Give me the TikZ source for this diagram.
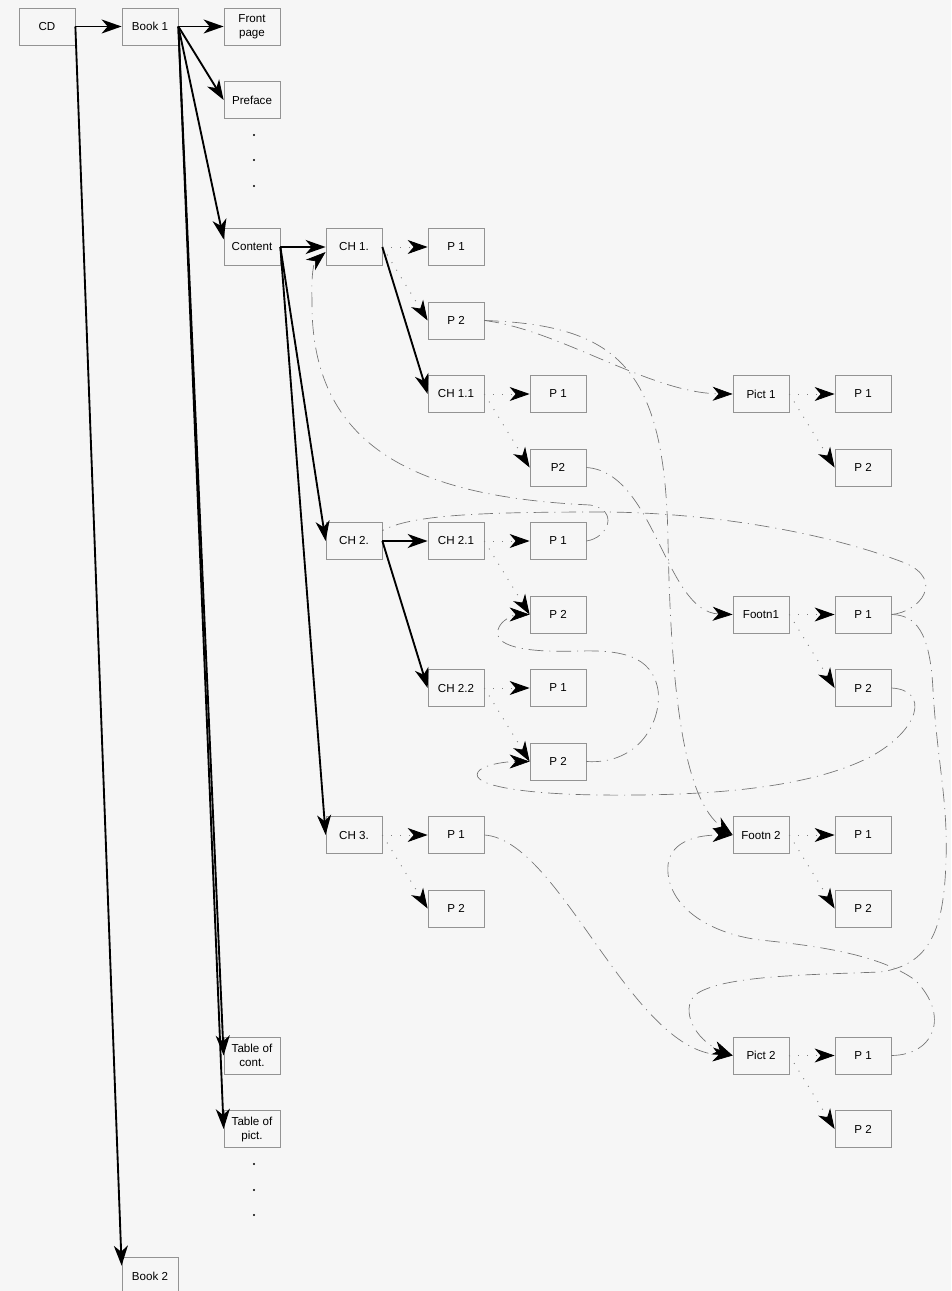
\documentclass[tikz,border=0pt]{standalone}
\usepackage{fontspec}
\setmainfont{Liberation Sans}
\usetikzlibrary{arrows.meta}
\tikzset{
  box/.style={draw=gray!85,line width=.55pt,minimum width=42pt,minimum height=27.75pt,inner sep=1pt,align=center,font=\fontsize{8.7}{10.5}\selectfont},
  barb/.style={-{Stealth[length=15pt,width=10.5pt,inset=4.5pt,color=black]}},
  link/.style={barb,line width=1.4pt},
  sub/.style={barb,gray,line width=.7pt,dash pattern=on .7pt off 6pt},
  xref/.style={barb,gray!90!black,line width=.5pt,dash pattern=on 11pt off 4.5pt on .8pt off 4.5pt},
}
\begin{document}
\begin{tikzpicture}[x=.75pt,y=-.75pt]
\fill[gray!7] (0,0) rectangle (951,1291);
\useasboundingbox (0,0) rectangle (951,1291);
% cd and books
\node[box] (cd) at (47,26.5) {CD};
\node[box] (book1) at (150,26.5) {Book 1};
\node[box] (book2) at (150,1276) {Book 2};
% parts of book 1
\node[box] (front) at (252,26.5) {Front\\page};
\node[box] (preface) at (252,100) {Preface};
\node[box] (content) at (252,247) {Content};
\node[box] (toc) at (252,1055.5) {Table of\\cont.};
\node[box] (top) at (252,1129) {Table of\\pict.};
\foreach \y in {135,160,186,1164,1190,1215}
  \fill (254,\y) circle (.9pt);
% chapters, pictures, footnotes
\node[box] (ch1) at (354,247) {CH 1.};
\node[box] (ch11) at (456,394) {CH 1.1};
\node[box] (ch2) at (354,541) {CH 2.};
\node[box] (ch21) at (456,541) {CH 2.1};
\node[box] (ch22) at (456,688) {CH 2.2};
\node[box] (ch3) at (354,835) {CH 3.};
\node[box] (pict1) at (761,394) {Pict 1};
\node[box] (footn1) at (761,614.5) {Footn1};
\node[box] (footn2) at (761,835) {Footn 2};
\node[box] (pict2) at (761,1055.5) {Pict 2};
% pages
\foreach \s/\x/\y/\q in {ch1/354/247/P 2,ch11/456/394/P2,pict1/761/394/P 2,ch21/456/541/P 2,ch22/456/688/P 2,footn1/761/614.5/P 2,ch3/354/835/P 2,footn2/761/835/P 2,pict2/761/1055.5/P 2}{
  \node[box] (\s-p1) at (\x+102,\y) {P 1};
  \node[box] (\s-p2) at (\x+102,\y+73.5) {\q};
  \draw[sub] (\s.east) -- (\s-p1.west);
  \draw[sub] (\s.east) -- (\s-p2.west);
}
% tree
\draw[link] (cd.east) -- (book1.west);
\draw[link] (cd.east) -- (book2.160);
\foreach \t in {front.west,preface.west,content.165,toc.west,top.west}
  \draw[link] (book1.east) -- (\t);
\foreach \t in {ch1,ch2,ch3}
  \draw[link] (content.east) -- (\t.west);
\draw[link] (ch1.east) -- (ch11.west);
\draw[link] (ch2.east) -- (ch21.west);
\draw[link] (ch2.east) -- (ch22.west);
% cross references
\draw[xref] (ch1-p2.east) .. controls (560,330) and (650,393) .. (pict1.west);
\draw[xref] (ch1-p2.east) .. controls (620,325) and (665,370) .. (668,540)
  .. controls (671,700) and (685,800) .. (footn2.west);
\draw[xref] (ch11-p2.east) .. controls (655,472) and (665,612) .. (footn1.west);
\draw[xref] (ch21-p1.east) .. controls (608,538) and (620,510) .. (590,505)
  .. controls (420,497) and (310,450) .. (312,300)
  .. controls (311,275) and (314,262) .. (ch1.190);
\draw[xref,-] (footn1-p1.east) .. controls (920,612) and (945,580) .. (905,563)
  .. controls (820,530) and (700,512) .. (600,512)
  .. controls (480,512) and (410,515) .. (ch2.20);
\draw[xref] (ch22-p2.east) .. controls (640,765) and (662,720) .. (658,690)
  .. controls (652,655) and (620,650) .. (580,651)
  .. controls (520,653) and (494,645) .. (498,630)
  .. controls (500,620) and (515,614.5) .. (ch21-p2.west);
\draw[xref] (footn1-p2.east) .. controls (930,690) and (920,730) .. (870,757)
  .. controls (805,790) and (700,796) .. (600,795)
  .. controls (520,794) and (470,785) .. (478,772)
  .. controls (482,765) and (505,761.5) .. (ch22-p2.west);
\draw[xref] (footn1-p1.east) .. controls (915,615) and (930,630) .. (933,690)
  .. controls (937,760) and (948,800) .. (946,860)
  .. controls (944,930) and (930,965) .. (880,972)
  .. controls (800,975) and (720,976) .. (695,995)
  .. controls (680,1010) and (695,1040) .. (pict2.west);
\draw[xref] (pict2-p1.east) .. controls (935,1055) and (950,1015) .. (915,980)
  .. controls (880,955) and (820,946) .. (760,940)
  .. controls (700,932) and (665,900) .. (668,865)
  .. controls (670,845) and (690,835) .. (footn2.west);
\draw[xref] (ch3-p1.east) .. controls (560,840) and (630,1050) .. (pict2.west);
\end{tikzpicture}
\end{document}
